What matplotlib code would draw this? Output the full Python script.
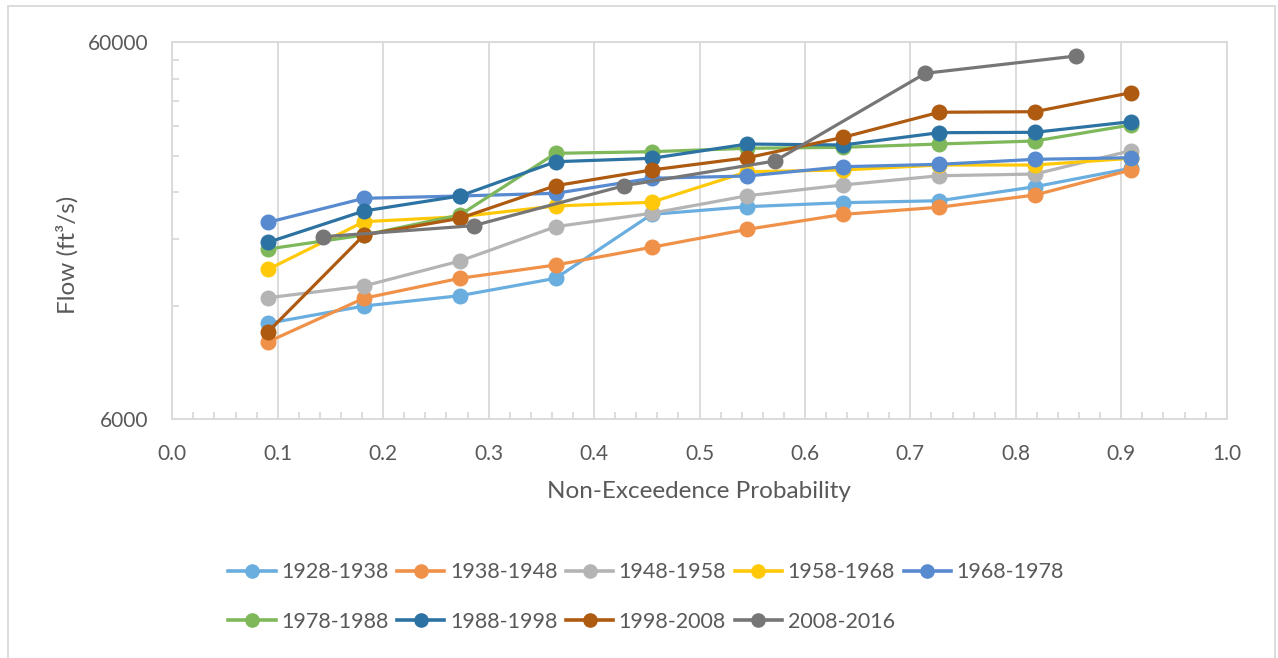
import matplotlib
matplotlib.use("Agg")
import matplotlib.pyplot as plt
from matplotlib.lines import Line2D
from matplotlib.patches import Rectangle
from matplotlib.ticker import FixedLocator, NullFormatter

plt.rcParams['font.family'] = ['Lato', 'DejaVu Sans']

labels = ["1928-1938", "1938-1948", "1948-1958", "1958-1968", "1968-1978",
          "1978-1988", "1988-1998", "1998-2008", "2008-2016"]
colors = ["#6AAEDF", "#F0914A", "#B4B4B4", "#FFC90A", "#588AD0",
          "#7EB85A", "#2C72A3", "#AE5A10", "#767676"]

p10 = [i / 11 for i in range(1, 11)]
p6 = [i / 7 for i in range(1, 7)]

flow_1928 = [10770, 11970, 12750, 14180, 20960, 21970, 22510, 22780, 24820, 27780]
flow_1938 = [9620, 12550, 14180, 15380, 17140, 19130, 20960, 21890, 23590, 27490]
flow_1948 = [12590, 13530, 15760, 19440, 21100, 23490, 25090, 26540, 26820, 30930]
flow_1958 = [14980, 20040, 20660, 22060, 22570, 27200, 27490, 28340, 28340, 29520]
flow_1968 = [19970, 23120, 23450, 23840, 26130, 26500, 28050, 28460, 29340, 29630]
flow_1978 = [16960, 18470, 20880, 30440, 30740, 31390, 31580, 32220, 32820, 36200]
flow_1988 = [17670, 21400, 23450, 28920, 29520, 32220, 32030, 34530, 34610, 36930]
flow_1998 = [10230, 18470, 20460, 24980, 27490, 29630, 33570, 39120, 39260, 44090]
flow_2008 = [18280, 19560, 24980, 29040, 49650, 55180]

series = [(p10, flow_1928), (p10, flow_1938), (p10, flow_1948), (p10, flow_1958),
          (p10, flow_1968), (p10, flow_1978), (p10, flow_1988), (p10, flow_1998),
          (p6, flow_2008)]

xticks = [round(0.1 * i, 1) for i in range(11)]
yticks = [6000, 60000]
yminor = [6000 * k for k in range(2, 10)]
xminor = [0.02 * i for i in range(51)]

W, H = 1278, 658
fig = plt.figure(figsize=(W / 100, H / 100), dpi=100)
ax = fig.add_axes([172.3 / W, 1 - 419 / H, (1226.7 - 172.3) / W, (419 - 42.3) / H])

handles = []
for (x, y), lab, c in zip(series, labels, colors):
    ax.plot(x, y, color=c, lw=2.3, marker='o', ms=10.5, mec=c, mfc=c,
            solid_capstyle='round', zorder=3)
    handles.append(Line2D([], [], color=c, lw=2.6, marker='o', ms=9.5, mec=c, mfc=c))

ax.set_yscale('log')
ax.set_xlim(0, 1.0)
ax.set_ylim(6000, 60000)
ax.set_xticks(xticks)
ax.set_xticklabels([f"{v:.1f}" for v in xticks])
ax.set_yticks(yticks)
ax.set_yticklabels([str(v) for v in yticks])
ax.yaxis.set_minor_locator(FixedLocator(yminor))
ax.yaxis.set_minor_formatter(NullFormatter())
ax.xaxis.set_minor_locator(FixedLocator(xminor))

grid_c = '#D9D9D9'
ax.grid(True, which='major', color=grid_c, lw=1.3, zorder=0)
for s in ax.spines.values():
    s.set_color(grid_c)
    s.set_linewidth(1.3)
ax.tick_params(which='major', length=0, labelsize=15, labelcolor='#595959')
ax.tick_params(axis='x', which='major', pad=18)
ax.tick_params(axis='y', which='major', pad=17)
ax.tick_params(which='minor', direction='in', length=5, color=grid_c, width=1.3)
ax.tick_params(axis='x', which='minor', top=False)
ax.tick_params(axis='y', which='minor', right=False)

fig.text(699 / W, 1 - 492 / H, "Non-Exceedence Probability", ha='center', va='center',
         fontsize=17.5, color='#595959')
fig.text(67 / W, 1 - 255 / H, "Flow (ft³/s)", ha='center', va='center',
         rotation=90, fontsize=17.5, color='#595959')

order = [0, 5, 1, 6, 2, 7, 3, 8, 4]
leg = fig.legend([handles[i] for i in order], [labels[i] for i in order],
                 ncol=5, loc='center', bbox_to_anchor=(646 / W, 1 - 597 / H),
                 frameon=False, fontsize=15.5, handlelength=2.2, handletextpad=0.25,
                 columnspacing=0.4, labelspacing=1.35, borderpad=0)
for t in leg.get_texts():
    t.set_color('#595959')

fig.add_artist(Rectangle((8 / W, -0.05), (1275 - 8) / W, 1 - 6 / H + 0.05,
                         transform=fig.transFigure, fill=False, ec=grid_c, lw=1.3))

fig.savefig("out.png", dpi=100)
